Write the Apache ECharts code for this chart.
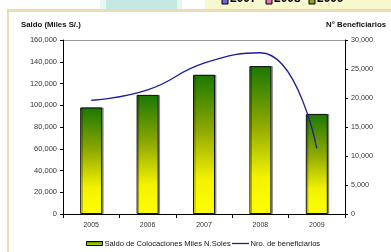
<!DOCTYPE html>
<html><head><meta charset="utf-8">
<script src="https://cdn.jsdelivr.net/npm/echarts@6/dist/echarts.min.js"></script>
<style>html,body{margin:0;padding:0;background:#fff}#c{width:391px;height:252px}</style>
</head><body><div id="c"></div>
<script>
const categories = ['2005','2006','2007','2008','2009'];
const saldo = [98000, 109500, 128000, 136000, 92000];
const beneficiarios = [19600, 21400, 26000, 27800, 11300];
const leftTicks = {min:0, max:160000, interval:20000};
const rightTicks = {min:0, max:30000, interval:5000};
const topLegend = ['2007','2008','2009'];
const seriesNames = ['Saldo de Colocaciones Miles N.Soles','Nro. de beneficiarios'];

const font = 'Liberation Sans, Arial, sans-serif';
const fmt = v => v.toLocaleString('en-US');
const barGrad = new echarts.graphic.LinearGradient(0,0,0,1,[
  {offset:0,color:'#1a7800'},{offset:0.4,color:'#8ea800'},{offset:0.75,color:'#f2f200'},{offset:1,color:'#ffff00'}]);
const iconGrad = new echarts.graphic.LinearGradient(0,0,0,1,[
  {offset:0,color:'#3a8a00'},{offset:1,color:'#e8e800'}]);

const chart = echarts.init(document.getElementById('c'), null, {renderer:'canvas'});
chart.setOption({
  animation:false,
  backgroundColor:'#fff',
  textStyle:{fontFamily:font},
  grid:{left:63,right:46,top:40,bottom:38},
  graphic:[
    {type:'rect',shape:{x:100,y:0,width:82,height:9},style:{fill:'#e6f6f3'},silent:true},
    {type:'rect',shape:{x:106,y:0,width:71,height:9},style:{fill:'#c6e8e2'},silent:true},
    {type:'rect',shape:{x:205,y:0,width:186,height:9},style:{fill:'#f8f8cf'},silent:true},
    {type:'rect',shape:{x:7,y:9,width:384,height:3},style:{fill:'#ecdcb4'},silent:true},
    {type:'rect',shape:{x:7,y:9,width:2,height:243},style:{fill:'#ecdcb4'},silent:true},
    {type:'rect',shape:{x:222,y:-2,width:6,height:6},style:{fill:'#6a6ad8',stroke:'#000',lineWidth:1},silent:true},
    {type:'text',x:230,y:-1.5,style:{text:topLegend[0],font:'bold 12px '+font,fill:'#000',verticalAlign:'middle'}},
    {type:'rect',shape:{x:266,y:-2,width:6,height:6},style:{fill:'#e070b0',stroke:'#000',lineWidth:1},silent:true},
    {type:'text',x:274,y:-1.5,style:{text:topLegend[1],font:'bold 12px '+font,fill:'#000',verticalAlign:'middle'}},
    {type:'rect',shape:{x:309,y:-2,width:6,height:6},style:{fill:'#9a9a30',stroke:'#000',lineWidth:1},silent:true},
    {type:'text',x:317,y:-1.5,style:{text:topLegend[2],font:'bold 12px '+font,fill:'#000',verticalAlign:'middle'}},
    {type:'text',x:21,y:24.5,style:{text:'Saldo (Miles S/.)',font:'bold 7.8px '+font,fill:'#111',verticalAlign:'middle'}},
    {type:'text',x:386,y:24.5,style:{text:'N° Beneficiarios',font:'bold 7.8px '+font,fill:'#111',align:'right',verticalAlign:'middle'}},
    {type:'line',shape:{x1:63,y1:40.5,x2:345,y2:40.5},style:{stroke:'#999',lineWidth:1},silent:true},
    {type:'rect',shape:{x:86.5,y:241.5,width:16,height:4},style:{fill:iconGrad,stroke:'#000',lineWidth:1},silent:true},
    {type:'text',x:104.5,y:244,style:{text:seriesNames[0],font:'7.6px '+font,fill:'#111',verticalAlign:'middle'}},
    {type:'line',shape:{x1:232,y1:243.5,x2:249,y2:243.5},style:{stroke:'#1c1ca0',lineWidth:1.3},silent:true},
    {type:'text',x:250.5,y:244,style:{text:seriesNames[1],font:'7.6px '+font,fill:'#111',verticalAlign:'middle'}}
  ],
  xAxis:{
    type:'category',data:categories,
    axisLine:{lineStyle:{color:'#000',width:1}},
    axisTick:{show:true,length:4,lineStyle:{color:'#000'}},
    axisLabel:{fontSize:7,color:'#333',margin:8,fontFamily:font}
  },
  yAxis:[
    {type:'value',min:leftTicks.min,max:leftTicks.max,interval:leftTicks.interval,
     axisLine:{show:true,lineStyle:{color:'#000'}},axisTick:{show:true,length:3,lineStyle:{color:'#000'}},
     splitLine:{show:false},
     axisLabel:{fontSize:7.5,color:'#333',margin:6,formatter:fmt,fontFamily:font}},
    {type:'value',min:rightTicks.min,max:rightTicks.max,interval:rightTicks.interval,position:'right',
     axisLine:{show:true,lineStyle:{color:'#000'}},axisTick:{show:true,length:3,lineStyle:{color:'#000'}},
     splitLine:{show:false},
     axisLabel:{fontSize:7.2,color:'#333',margin:6,formatter:fmt,fontFamily:font}}
  ],
  series:[
    {name:seriesNames[0],type:'bar',data:saldo,barWidth:22,yAxisIndex:0,
     itemStyle:{color:barGrad,borderColor:'#111',borderWidth:1,shadowColor:'rgba(0,0,0,0.35)',shadowOffsetX:1.5,shadowOffsetY:0,shadowBlur:0}},
    {name:seriesNames[1],type:'line',data:beneficiarios,yAxisIndex:1,smooth:0.5,symbol:'none',
     lineStyle:{color:'#1c1ca0',width:1.3}}
  ]
});
</script></body></html>
